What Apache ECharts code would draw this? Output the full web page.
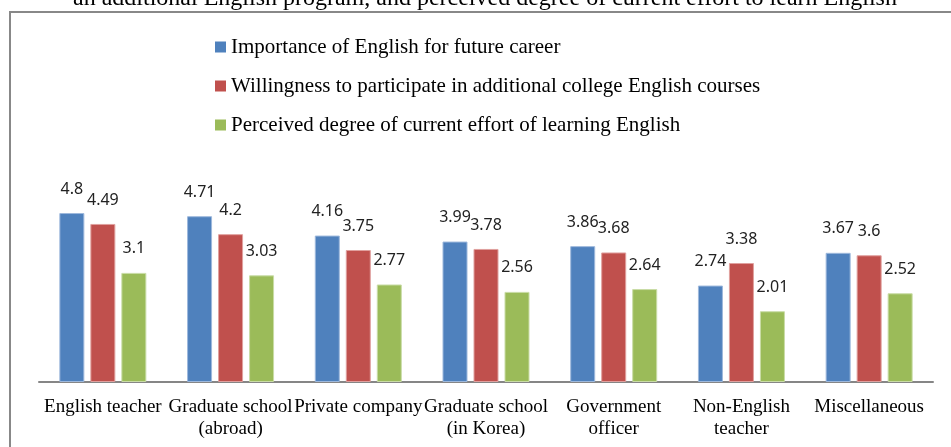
<!DOCTYPE html>
<html>
<head>
<meta charset="utf-8">
<script src="https://cdn.jsdelivr.net/npm/echarts@6/dist/echarts.min.js"></script>
<style>
  html, body { margin: 0; padding: 0; background: #fff; }
  #chart { width: 951px; height: 447px; }
</style>
</head>
<body>
<div id="chart"></div>
<script>
// data
var categories = ['English teacher', 'Graduate school\n(abroad)', 'Private company', 'Graduate school\n(in Korea)', 'Government\nofficer', 'Non-English\nteacher', 'Miscellaneous'];
var seriesNames = [
  'Importance of English for future career',
  'Willingness to participate in additional college English courses',
  'Perceived degree of current effort of learning English'
];
var importance = [4.8, 4.71, 4.16, 3.99, 3.86, 2.74, 3.67];
var willingness = [4.49, 4.2, 3.75, 3.78, 3.68, 3.38, 3.6];
var effort = [3.1, 3.03, 2.77, 2.56, 2.64, 2.01, 2.52];
var colors = ['#4f81bd', '#c0504d', '#9bbb59'];
var borders = ['#9db8dc', '#e0a09e', '#c9dca6'];

var chart = echarts.init(document.getElementById('chart'));

function makeSeries(i, values) {
  return {
    name: seriesNames[i],
    type: 'bar',
    barWidth: 25,
    barGap: '24%',
    data: values,
    itemStyle: { color: colors[i], borderColor: borders[i], borderWidth: 1 },
    label: {
      show: true,
      position: 'top',
      distance: 16,
      color: '#222',
      fontFamily: 'Noto Sans',
      fontSize: 16
    }
  };
}

var option = {
  animation: false,
  backgroundColor: '#fff',
  title: {
    text: 'an additional English program, and perceived degree of current effort to learn English',
    left: 68,
    top: -18,
    textStyle: { fontFamily: 'Liberation Serif', fontSize: 24, fontWeight: 'normal', color: '#000' }
  },
  graphic: [{
    type: 'polyline',
    shape: { points: [[10, 447], [10, 12], [951, 12]] },
    style: { stroke: '#888', lineWidth: 2, fill: null }
  }],
  legend: {
    orient: 'vertical',
    left: 210,
    top: 31,
    itemWidth: 11,
    itemHeight: 11,
    itemGap: 17,
    icon: 'rect',
    itemStyle: { borderWidth: 0 },
    data: seriesNames,
    textStyle: { fontFamily: 'Liberation Serif', fontSize: 21, color: '#000', lineHeight: 22 }
  },
  grid: { left: 39, right: 18, top: 206, bottom: 65 },
  xAxis: {
    type: 'category',
    data: categories,
    axisTick: { show: false },
    axisLine: { lineStyle: { color: '#868686', width: 2 } },
    axisLabel: {
      interval: 0,
      margin: 14,
      color: '#000',
      fontFamily: 'Liberation Serif',
      fontSize: 19,
      lineHeight: 22
    }
  },
  yAxis: {
    type: 'value',
    min: 0,
    max: 5,
    show: false
  },
  series: [
    makeSeries(0, importance),
    makeSeries(1, willingness),
    makeSeries(2, effort)
  ]
};

chart.setOption(option);
window.addEventListener('resize', function () { chart.resize(); });
</script>
</body>
</html>
